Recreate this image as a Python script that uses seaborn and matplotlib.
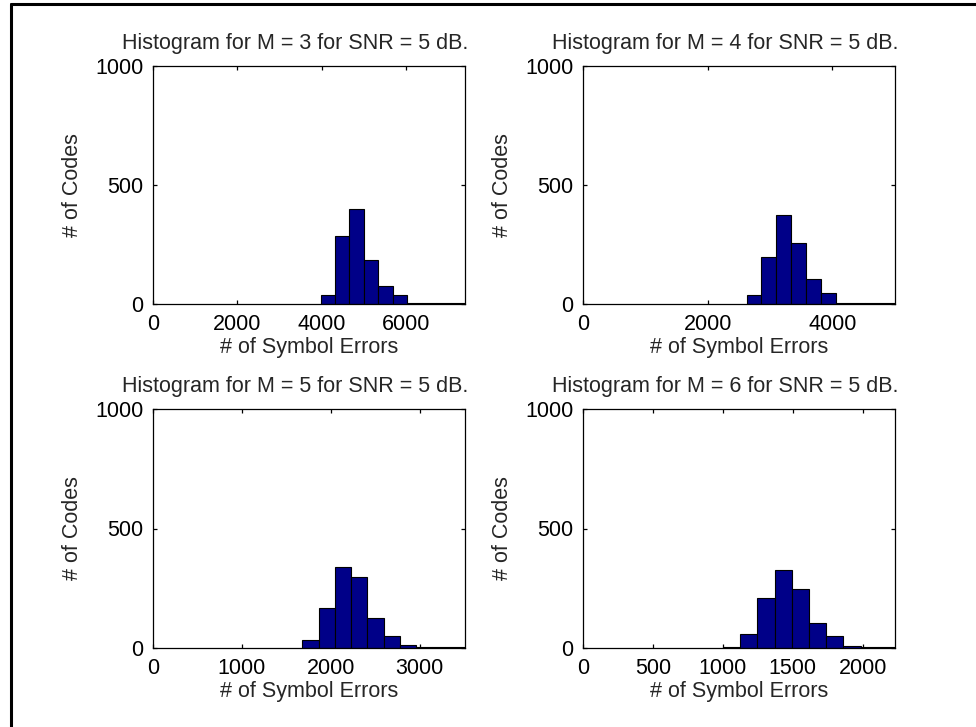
import numpy as np
import pandas as pd
import matplotlib
matplotlib.use("Agg")
import matplotlib.pyplot as plt
from matplotlib.lines import Line2D
import seaborn as sns

# ---- data ----
m_values = [3, 4, 5, 6]
snr_db = 5

centers_m3 = [4138, 4480, 4822, 5164, 5506, 5848, 6190, 6532, 6874, 7216]
counts_m3 = [39, 284, 400, 185, 74, 39, 5, 4, 3, 3]

centers_m4 = [2744, 2982, 3220, 3458, 3696, 3934, 4172, 4410, 4648, 4886]
counts_m4 = [39, 197, 372, 256, 105, 46, 5, 4, 3, 3]

centers_m5 = [1773.5, 1956.5, 2139.5, 2322.5, 2505.5, 2688.5, 2871.5, 3054.5, 3237.5, 3420.5]
counts_m5 = [32, 169, 337, 298, 126, 52, 11, 4, 3, 3]

centers_m6 = [1061.5, 1184.5, 1307.5, 1430.5, 1553.5, 1676.5, 1799.5, 1922.5, 2045.5, 2168.5]
counts_m6 = [4, 60, 211, 326, 248, 105, 52, 7, 4, 3]

xticks_m3 = [0, 2000, 4000, 6000]
xticks_m4 = [0, 2000, 4000]
xticks_m5 = [0, 1000, 2000, 3000]
xticks_m6 = [0, 500, 1000, 1500, 2000]
yticks = [0, 500, 1000]

title_fmt = "Histogram for M = {} for SNR = {} dB."
xlabel = "# of Symbol Errors"
ylabel = "# of Codes"

# ---- style ----
sns.set_style("ticks")
plt.rcParams["font.family"] = ["Liberation Sans", "DejaVu Sans"]
plt.rcParams["axes.linewidth"] = 0.9
plt.rcParams["axes.edgecolor"] = "black"

fig = plt.figure(figsize=(9.76, 7.27), dpi=100)
fig.patch.set_facecolor("white")

W, H = 976.0, 727.0
rects = [
    (153, 66, 465, 304),
    (583, 66, 895, 304),
    (153, 409, 465, 648),
    (583, 409, 895, 648),
]
panels = [
    (centers_m3, counts_m3, xticks_m3),
    (centers_m4, counts_m4, xticks_m4),
    (centers_m5, counts_m5, xticks_m5),
    (centers_m6, counts_m6, xticks_m6),
]

FS = 15.5
bar_color = "#000088"

for (l, t, r, b), (centers, counts, xt), m in zip(rects, panels, m_values):
    ax = fig.add_axes([l / W, 1 - b / H, (r - l) / W, (b - t) / H])
    c = np.asarray(centers, dtype=float)
    w = float(c[1] - c[0])
    lo, hi = float(c[0] - w / 2), float(c[-1] + w / 2)
    df = pd.DataFrame({"errors": c, "count": np.asarray(counts, dtype=float)})
    sns.histplot(data=df, x="errors", weights="count", bins=len(c),
                 binrange=(lo, hi), ax=ax,
                 color=bar_color, edgecolor="black", linewidth=0.8, alpha=1.0)
    ax.set_xlim(0, hi)
    ax.set_ylim(0, 1000)
    ax.set_xticks(xt)
    ax.set_yticks(yticks)
    ax.set_xticklabels([str(v) for v in xt])
    ax.set_yticklabels([str(v) for v in yticks])
    ax.tick_params(direction="in", length=3, width=0.9, top=True, right=True,
                   labelsize=FS, pad=7, colors="black")
    for s in ax.spines.values():
        s.set_visible(True)
        s.set_linewidth(0.9)
        s.set_color("black")
    ax.set_xlabel(xlabel, fontsize=FS, labelpad=2)
    ax.set_ylabel(ylabel, fontsize=FS, labelpad=9)
    ax.set_title(title_fmt.format(m, snr_db), fontsize=FS, pad=12, x=0.455)
    ax.set_facecolor("white")

# outer frame (left and top edges visible in the reference)
fig.add_artist(Line2D([10.5 / W, 10.5 / W], [0, 1 - 3.5 / H], color="black",
                      linewidth=2.2, transform=fig.transFigure))
fig.add_artist(Line2D([10.5 / W, 1], [1 - 3.5 / H, 1 - 3.5 / H], color="black",
                      linewidth=2.2, transform=fig.transFigure))

fig.savefig("out.png", dpi=100, facecolor="white")
